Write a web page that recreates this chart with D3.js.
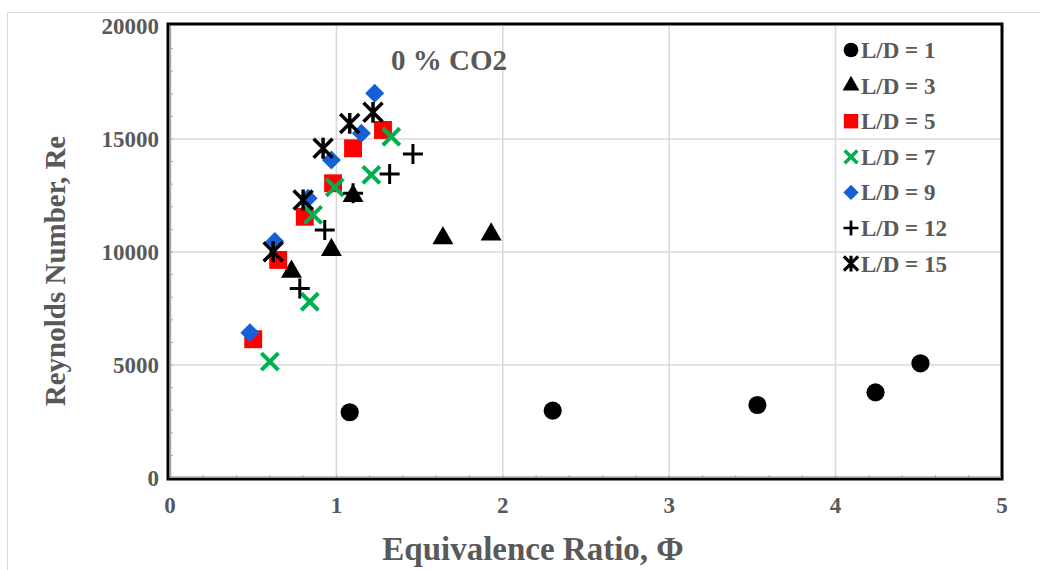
<!DOCTYPE html>
<html>
<head>
<meta charset="utf-8">
<script src="https://cdn.jsdelivr.net/npm/d3@7"></script>
<style>
  body { margin: 0; background: #fff; }
  text { font-family: "Liberation Serif", "Times New Roman", serif; font-weight: bold; fill: #595959; }
</style>
</head>
<body>
<script>
// equivalence ratio (x) and Reynolds number (y) for each L/D
const ld1x = [1.08, 2.30, 3.53, 4.24, 4.51];
const ld1y = [2910, 2980, 3230, 3790, 5075];
const ld3x = [0.73, 0.97, 1.10, 1.64, 1.93];
const ld3y = [9130, 10090, 12480, 10610, 10780];
const ld5x = [0.50, 0.65, 0.81, 0.98, 1.10, 1.28];
const ld5y = [6140, 9650, 11560, 13040, 14590, 15400];
const ld7x = [0.60, 0.84, 0.86, 0.99, 1.21, 1.33];
const ld7y = [5150, 7800, 11640, 12860, 13410, 15100];
const ld9x = [0.48, 0.63, 0.83, 0.97, 1.15, 1.23];
const ld9y = [6430, 10460, 12380, 14070, 15250, 17020];
const ld12x = [0.78, 0.93, 1.10, 1.32, 1.46];
const ld12y = [8390, 10970, 12600, 13450, 14340];
const ld15x = [0.62, 0.80, 0.92, 1.08, 1.22];
const ld15y = [10010, 12300, 14590, 15690, 16180];

const seriesNames = ["L/D = 1", "L/D = 3", "L/D = 5", "L/D = 7", "L/D = 9", "L/D = 12", "L/D = 15"];
const xTicks = [0, 1, 2, 3, 4, 5];
const yTicks = [0, 5000, 10000, 15000, 20000];

function init() {
    var w = 1040, h = 570;
    var left = 170, right = 1002, top = 26, bottom = 478;

    var xScale = d3.scaleLinear().domain([0, 5]).range([left, right]);
    var yScale = d3.scaleLinear().domain([0, 20000]).range([bottom, top]);

    var svg = d3.select("body").append("svg")
        .attr("width", w).attr("height", h);

    // outer chart border
    svg.append("rect")
        .attr("x", 7.5).attr("y", 12.5).attr("width", w + 20).attr("height", h + 20)
        .attr("fill", "none").attr("stroke", "#d9d9d9").attr("stroke-width", 1);

    // gridlines
    svg.append("g").selectAll("line")
        .data(xTicks.slice(1, -1))
        .enter().append("line")
        .attr("x1", d => xScale(d)).attr("x2", d => xScale(d))
        .attr("y1", top).attr("y2", bottom)
        .attr("stroke", "#d9d9d9").attr("stroke-width", 1.5);
    svg.append("g").selectAll("line")
        .data(yTicks.slice(1, -1))
        .enter().append("line")
        .attr("x1", left).attr("x2", right)
        .attr("y1", d => yScale(d)).attr("y2", d => yScale(d))
        .attr("stroke", "#d9d9d9").attr("stroke-width", 1.5);

    // minor ticks inside, bottom and left
    svg.append("g").selectAll("line")
        .data(d3.range(1, 25).map(i => i * 0.2))
        .enter().append("line")
        .attr("x1", d => xScale(d)).attr("x2", d => xScale(d))
        .attr("y1", bottom - 3).attr("y2", bottom)
        .attr("stroke", "#a6a6a6");
    svg.append("g").selectAll("line")
        .data(d3.range(1, 20).map(i => i * 1000))
        .enter().append("line")
        .attr("x1", left).attr("x2", left + 3)
        .attr("y1", d => yScale(d)).attr("y2", d => yScale(d))
        .attr("stroke", "#a6a6a6");

    // plot frame
    svg.append("rect")
        .attr("x", left - 2).attr("y", top - 2)
        .attr("width", right - left + 2).attr("height", bottom - top + 3)
        .attr("fill", "none").attr("stroke", "#000").attr("stroke-width", 3);
    svg.append("path")
        .attr("d", `M${left + 0.5},${bottom - 1} V${top} M${left},${bottom - 1} H${right - 1}`)
        .attr("fill", "none").attr("stroke", "#a6a6a6").attr("stroke-width", 1.5);

    // tick labels
    svg.append("g").selectAll("text")
        .data(xTicks)
        .enter().append("text")
        .attr("x", d => xScale(d)).attr("y", 513)
        .attr("text-anchor", "middle")
        .style("font-size", "23px")
        .text(d => d);
    svg.append("g").selectAll("text")
        .data(yTicks)
        .enter().append("text")
        .attr("x", 159).attr("y", d => yScale(d) + 8)
        .attr("text-anchor", "end")
        .style("font-size", "23px")
        .text(d => d);

    // axis titles
    svg.append("text")
        .attr("x", 533).attr("y", 560)
        .attr("text-anchor", "middle")
        .style("font-size", "33px")
        .text("Equivalence Ratio, Φ");
    svg.append("text")
        .attr("transform", "translate(65," + 271 + ") rotate(-90)")
        .attr("text-anchor", "middle")
        .style("font-size", "29px")
        .text("Reynolds Number, Re");

    svg.append("text")
        .attr("x", 449).attr("y", 70)
        .attr("text-anchor", "middle")
        .style("font-size", "29px")
        .text("0 % CO2");

    // marker shapes
    var crossX = {draw: function(ctx, s) {
        ctx.moveTo(-s, -s); ctx.lineTo(s, s);
        ctx.moveTo(-s, s); ctx.lineTo(s, -s);
    }};
    var plus = {draw: function(ctx, s) {
        ctx.moveTo(-s, 0); ctx.lineTo(s, 0);
        ctx.moveTo(0, -s); ctx.lineTo(0, s);
    }};
    var star = {draw: function(ctx, s) {
        ctx.moveTo(-s, -s); ctx.lineTo(s, s);
        ctx.moveTo(-s, s); ctx.lineTo(s, -s);
        ctx.moveTo(0, -s * 1.1); ctx.lineTo(0, s * 1.1);
    }};

    const styles = [
        {type: d3.symbolCircle, size: 260, fill: "#000", stroke: "none", sw: 0},
        {type: d3.symbolTriangle, size: 190, fill: "#000", stroke: "none", sw: 0},
        {type: d3.symbolSquare, size: 320, fill: "#ff0000", stroke: "none", sw: 0},
        {type: crossX, size: 8.5, fill: "none", stroke: "#00b050", sw: 4},
        {type: d3.symbolDiamond2, size: 230, fill: "#1560d6", stroke: "none", sw: 0},
        {type: plus, size: 10, fill: "none", stroke: "#000", sw: 3},
        {type: star, size: 9.5, fill: "none", stroke: "#000", sw: 3.5}
    ];

    const series = [
        d3.zip(ld1x, ld1y), d3.zip(ld3x, ld3y), d3.zip(ld5x, ld5y), d3.zip(ld7x, ld7y),
        d3.zip(ld9x, ld9y), d3.zip(ld12x, ld12y), d3.zip(ld15x, ld15y)
    ];

    function symbolPath(st, scale) {
        return d3.symbol().type(st.type).size(st.size * scale)();
    }

    series.forEach(function(pts, i) {
        var st = styles[i];
        svg.append("g").selectAll("path")
            .data(pts)
            .enter().append("path")
            .attr("transform", d => "translate(" + xScale(d[0]) + "," + yScale(d[1]) + ")")
            .attr("d", symbolPath(st, 1))
            .attr("fill", st.fill)
            .attr("stroke", st.stroke)
            .attr("stroke-width", st.sw);
    });

    // legend
    var legend = svg.append("g").selectAll("g")
        .data(seriesNames)
        .enter().append("g")
        .attr("transform", (d, i) => "translate(851," + (50 + i * 35.6) + ")");
    legend.append("path")
        .attr("d", (d, i) => {
            var st = styles[i];
            var isStroke = st.fill === "none";
            return symbolPath(st, isStroke ? 0.75 : 0.65);
        })
        .attr("fill", (d, i) => styles[i].fill)
        .attr("stroke", (d, i) => styles[i].stroke)
        .attr("stroke-width", (d, i) => styles[i].sw * 0.9);
    legend.append("text")
        .attr("x", 10).attr("y", 8)
        .style("font-size", "23px")
        .text(d => d);
}
window.onload = init;
</script>
</body>
</html>
